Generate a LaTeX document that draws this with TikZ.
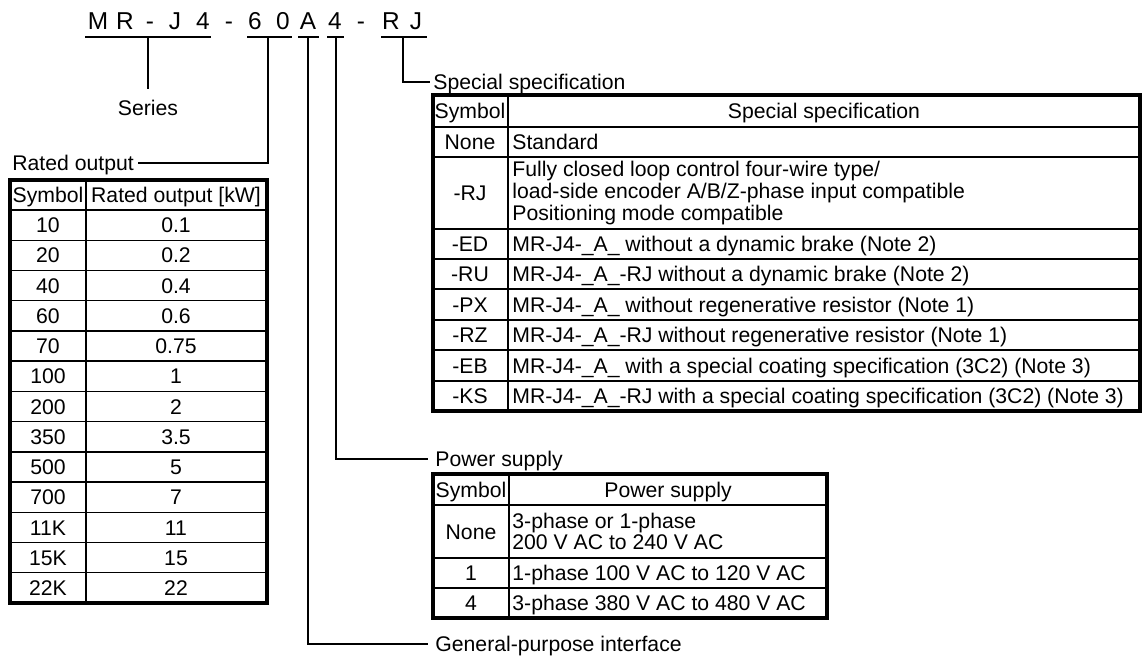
\documentclass[tikz,border=0pt]{standalone}
\usepackage{fontspec}
\setmainfont{Liberation Sans}
\begin{document}
\begin{tikzpicture}[x=0.5pt,y=-0.5pt,
    line/.style={line width=0.7pt},
    frame/.style={line width=2pt},
    head/.style={line width=1.4pt},
    txt/.style={inner sep=0pt,text height=7.6pt,text depth=0pt,font=\fontsize{10.6}{9}\selectfont},
    multi/.style={inner sep=0pt,align=left,anchor=west,font=\fontsize{10.6}{9}\selectfont},
    code/.style={inner sep=0pt,text height=8.7pt,text depth=0pt,font=\fontsize{12.2}{13}\selectfont}]
    \useasboundingbox (0,0) rectangle (1143,657);

    % model name
    \foreach \ch/\x [count=\i] in {M/98,R/125,-/150,J/175,4/203,-/229,6/255,0/283,A/308,4/335,-/361,R/391,J/416}
        \node[code] (c\i) at (\x,20.5) {\ch};
    \draw[line] (85,37) -- (211,37);
    \draw[line] (247,37) -- (292,37);
    \draw[line] (298,37) -- (319,37);
    \draw[line] (327,37) -- (344,37);
    \draw[line] (381,37) -- (427,37);
    \coordinate (useries) at (148,37);
    \coordinate (urated) at (268,37);
    \coordinate (uif) at (308,37);
    \coordinate (upower) at (336,37);
    \coordinate (uspec) at (403,37);

    % labels
    \node[txt] (series) at (148,108) {Series};
    \node[txt,anchor=west] (rated) at (12,163) {Rated output};
    \node[txt,anchor=west] (spec) at (433,82) {Special specification};
    \node[txt,anchor=west] (power) at (435,459) {Power supply};
    \node[txt,anchor=west] (gpif) at (435,644) {General-purpose interface};

    \draw[line] (useries) -- ([yshift=5.5pt]series.north);
    \draw[line] (urated) |- ([xshift=2pt]rated.east);
    \draw[line] (uspec) |- ([xshift=-1.5pt]spec.west);
    \draw[line] (upower) |- ([xshift=-3.5pt]power.west);
    \draw[line] (uif) |- ([xshift=-3.5pt]gpif.west);

    % rated output table
    \draw[frame] (10,180) rectangle (267,603);
    \draw[head] (10,210) -- (267,210);
    \draw[line] (86,180) -- (86,603);
    \foreach \i in {1,...,12}
        \draw[line] (10,{210+30.23*\i}) -- (267,{210+30.23*\i});
    \node[txt] (rsym) at (48,195) {Symbol};
    \node[txt] (rhead) at (176,195) {Rated output [kW]};
    \foreach \s/\v [count=\i] in {10/0.1,20/0.2,40/0.4,60/0.6,70/0.75,100/1,200/2,350/3.5,500/5,700/7,11K/11,15K/15,22K/22} {
        \node[txt] (rs\i) at (48,{210+30.23*(\i-0.5)}) {\s};
        \node[txt] (rv\i) at (176,{210+30.23*(\i-0.5)}) {\v};
    }

    % special specification table
    \draw[frame] (433,95) rectangle (1140,411);
    \draw[head] (433,127) -- (1140,127);
    \draw[line] (508,95) -- (508,411);
    \foreach \y in {157,229,259,289,320,350,381}
        \draw[line] (433,\y) -- (1140,\y);
    \node[txt] (ssym) at (470,111) {Symbol};
    \node[txt] (shead) at (824,111) {Special specification};
    \node[txt] (s1) at (470,142) {None};
    \node[txt,anchor=west] (t1) at (512,142) {Standard};
    \node[txt] (s2) at (470,193) {-RJ};
    \node[multi] (t2) at (512,193) {Fully closed loop control four-wire type/\\load-side encoder A/B/Z-phase input compatible\\Positioning mode compatible};
    \node[txt] (s3) at (470,244) {-ED};
    \node[txt,anchor=west] (t3) at (512,244) {MR-J4-\_A\_ without a dynamic brake (Note 2)};
    \node[txt] (s4) at (470,274) {-RU};
    \node[txt,anchor=west] (t4) at (512,274) {MR-J4-\_A\_-RJ without a dynamic brake (Note 2)};
    \node[txt] (s5) at (470,304.5) {-PX};
    \node[txt,anchor=west] (t5) at (512,304.5) {MR-J4-\_A\_ without regenerative resistor (Note 1)};
    \node[txt] (s6) at (470,335) {-RZ};
    \node[txt,anchor=west] (t6) at (512,335) {MR-J4-\_A\_-RJ without regenerative resistor (Note 1)};
    \node[txt] (s7) at (470,365.5) {-EB};
    \node[txt,anchor=west] (t7) at (512,365.5) {MR-J4-\_A\_ with a special coating specification (3C2) (Note 3)};
    \node[txt] (s8) at (470,396) {-KS};
    \node[txt,anchor=west] (t8) at (512,396) {MR-J4-\_A\_-RJ with a special coating specification (3C2) (Note 3)};

    % power supply table
    \draw[frame] (433,474) rectangle (827,618);
    \draw[head] (433,505) -- (827,505);
    \draw[line] (509,474) -- (509,618);
    \draw[line] (433,558) -- (827,558);
    \draw[line] (433,588) -- (827,588);
    \node[txt] (psym) at (471,489.5) {Symbol};
    \node[txt] (phead) at (668,489.5) {Power supply};
    \node[txt] (p1) at (471,531.5) {None};
    \node[multi] (q1) at (512,531.5) {3-phase or 1-phase\\200 V AC to 240 V AC};
    \node[txt] (p2) at (471,573) {1};
    \node[txt,anchor=west] (q2) at (512,573) {1-phase 100 V AC to 120 V AC};
    \node[txt] (p3) at (471,603) {4};
    \node[txt,anchor=west] (q3) at (512,603) {3-phase 380 V AC to 480 V AC};
\end{tikzpicture}
\end{document}
